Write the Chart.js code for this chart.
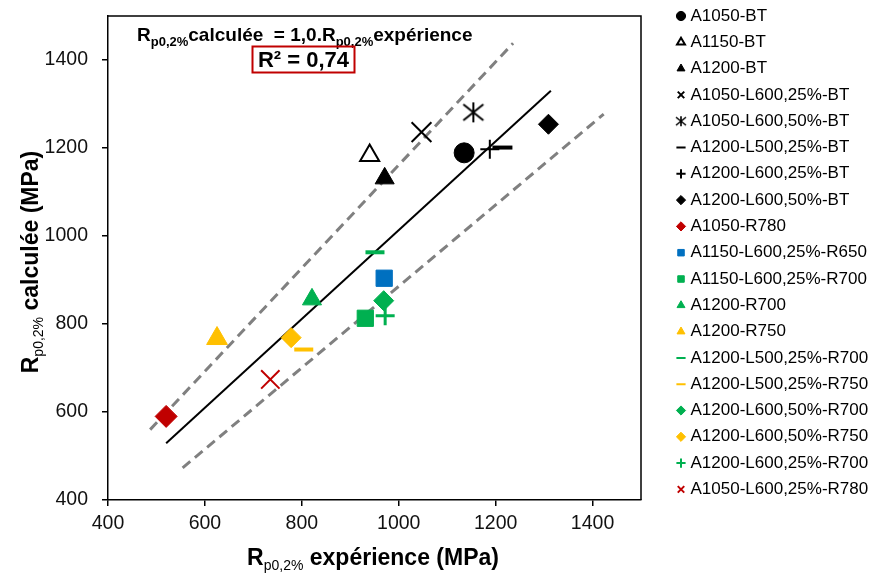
<!DOCTYPE html>
<html><head><meta charset="utf-8">
<script src="https://cdn.jsdelivr.net/npm/chart.js@4.4.1/dist/chart.umd.min.js"></script>
<style>html,body{margin:0;padding:0;background:#fff;} #wrap{width:870px;height:573px;position:relative;}</style>
</head><body><div id="wrap"><canvas id="c" width="870" height="573"></canvas></div>
<script>
// ---- data ----
const seriesNames = [
  'A1050-BT','A1150-BT','A1200-BT','A1050-L600,25%-BT','A1050-L600,50%-BT',
  'A1200-L500,25%-BT','A1200-L600,25%-BT','A1200-L600,50%-BT','A1050-R780',
  'A1150-L600,25%-R650','A1150-L600,25%-R700','A1200-R700','A1200-R750',
  'A1200-L500,25%-R700','A1200-L500,25%-R750','A1200-L600,50%-R700',
  'A1200-L600,50%-R750','A1200-L600,25%-R700','A1050-L600,25%-R780'
];
const expValues  = [1135, 940, 971, 1047, 1154, 1214, 1188, 1309, 520, 970, 931, 821, 625, 951, 804, 969, 778, 972, 735];
const calcValues = [1189, 1183, 1131, 1236, 1281, 1201, 1197, 1254, 590, 904, 813, 856, 767, 963, 742, 853, 769, 819, 674];
const fitLineX   = [520, 1314];
const fitLineY   = [529, 1330];
const upperLineX = [487, 1236];
const upperLineY = [560, 1438];
const lowerLineX = [554, 1423];
const lowerLineY = [473, 1277];
const xTicks = [400, 600, 800, 1000, 1200, 1400];
const yTicks = [400, 600, 800, 1000, 1200, 1400];

// ---- styles ----
const BLK = '#000000', RED = '#C00000', BLU = '#0070C0', GRN = '#00B050', YEL = '#FFC000';
function makeStar(half, lw) {
  const n = Math.ceil(half * 2 + lw * 2);
  const cv = document.createElement('canvas');
  cv.width = n; cv.height = n;
  const g = cv.getContext('2d');
  const c = n / 2, dx = half, dy = half * 0.8;
  g.strokeStyle = '#000'; g.lineWidth = lw; g.lineCap = 'butt';
  g.beginPath();
  g.moveTo(c - dx, c - dy); g.lineTo(c + dx, c + dy);
  g.moveTo(c + dx, c - dy); g.lineTo(c - dx, c + dy);
  g.moveTo(c, c - half); g.lineTo(c, c + half);
  g.stroke();
  return cv;
}
const starBig = makeStar(10, 2);
const starSmall = makeStar(5, 1.6);
const markers = [
  {s:'circle',   c:BLK, r:10},
  {s:'triangle', c:BLK, r:11, fill:'#ffffff', bw:2},
  {s:'triangle', c:BLK, r:11},
  {s:'crossRot', c:BLK, r:14, bw:2},
  {s:starBig,    c:BLK, r:11, bw:2, legend:starSmall},
  {s:'line',     c:BLK, r:10, bw:4},
  {s:'cross',    c:BLK, r:9.5, bw:2},
  {s:'rectRot',  c:BLK, r:10},
  {s:'rectRot',  c:RED, r:11},
  {s:'rect',     c:BLU, r:11.5},
  {s:'rect',     c:GRN, r:11.5},
  {s:'triangle', c:GRN, r:11},
  {s:'triangle', c:YEL, r:12},
  {s:'line',     c:GRN, r:9.5, bw:4},
  {s:'line',     c:YEL, r:9.5, bw:4},
  {s:'rectRot',  c:GRN, r:10},
  {s:'rectRot',  c:YEL, r:10},
  {s:'cross',    c:GRN, r:9.5, bw:3},
  {s:'crossRot', c:RED, r:13, bw:2}
];
const FONT = "'Liberation Sans', Arial, sans-serif";

const datasets = seriesNames.map((name, i) => {
  const m = markers[i];
  return {
    label: name,
    data: [{x: expValues[i], y: calcValues[i]}],
    pointStyle: m.s,
    pointRadius: m.r,
    pointHoverRadius: m.r,
    backgroundColor: m.fill || m.c,
    borderColor: m.c,
    borderWidth: m.bw || 1,
    showLine: false
  };
});
function lineDs(xs, ys, color, width, dash) {
  return {
    label: '_line',
    data: xs.map((x, k) => ({x: x, y: ys[k]})),
    showLine: true, pointRadius: 0, pointHoverRadius: 0,
    borderColor: color, borderWidth: width, borderDash: dash,
    backgroundColor: color, fill: false
  };
}
datasets.push(lineDs(fitLineX, fitLineY, '#000000', 2, []));
datasets.push(lineDs(upperLineX, upperLineY, '#808080', 3, [10, 6]));
datasets.push(lineDs(lowerLineX, lowerLineY, '#808080', 3, [10, 6]));

// ---- plugins ----
function rich(ctx, parts, x, y, align) {
  let w = 0;
  parts.forEach(p => { ctx.font = p.f; p.w = ctx.measureText(p.t).width; w += p.w; });
  let cx = align === 'center' ? x - w / 2 : x;
  parts.forEach(p => { ctx.font = p.f; ctx.fillText(p.t, cx, y + (p.dy || 0)); cx += p.w; });
}
const legendPlace = {
  id: 'legendPlace',
  beforeLayout(chart) {
    const lg = chart.legend;
    if (lg && !lg._patched) {
      lg._patched = true;
      const of = lg.fit.bind(lg);
      lg.fit = function () { of(); this.width = 229; };
    }
  },
  afterLayout(chart) {
    const lg = chart.legend;
    const h = lg.height;
    lg.left = 670.7; lg.right = lg.left + lg.width;
    lg.top = -1.8; lg.bottom = lg.top + h;
  }
};
const frame = {
  id: 'frame',
  beforeDatasetsDraw(chart) {
    const {ctx, chartArea: a} = chart;
    ctx.save();
    ctx.strokeStyle = '#000'; ctx.lineWidth = 1.5;
    ctx.beginPath();
    ctx.moveTo(a.left, a.top); ctx.lineTo(a.right, a.top); ctx.lineTo(a.right, a.bottom);
    ctx.stroke();
    ctx.restore();
  },
  afterDraw(chart) {
    const ctx = chart.ctx;
    ctx.save();
    ctx.fillStyle = '#000'; ctx.textAlign = 'left'; ctx.textBaseline = 'alphabetic';
    const B23 = 'bold 23px ' + FONT, S14 = '14px ' + FONT;
    // x title
    rich(ctx, [{t:'R', f:B23}, {t:'p0,2%', f:S14, dy:5}, {t:' expérience (MPa)', f:B23}], 373, 565, 'center');
    // y title
    ctx.save();
    ctx.translate(38, 262); ctx.rotate(-Math.PI / 2);
    rich(ctx, [{t:'R', f:B23}, {t:'p0,2%', f:S14, dy:5}, {t:' calculée (MPa)', f:B23}], 0, 0, 'center');
    ctx.restore();
    // annotation
    const B19 = 'bold 19px ' + FONT, B13 = 'bold 13px ' + FONT;
    rich(ctx, [{t:'R', f:B19}, {t:'p0,2%', f:B13, dy:5}, {t:'calculée  = 1,0.R', f:B19},
               {t:'p0,2%', f:B13, dy:5}, {t:'expérience', f:B19}], 137, 41, 'left');
    ctx.strokeStyle = '#C00000'; ctx.lineWidth = 2;
    ctx.strokeRect(252.5, 46.5, 102, 26);
    ctx.font = 'bold 22px ' + FONT; ctx.textAlign = 'center'; ctx.textBaseline = 'middle';
    ctx.fillText('R² = 0,74', 303.5, 60.5);
    ctx.restore();
  }
};

const defGen = Chart.defaults.plugins.legend.labels.generateLabels;
new Chart(document.getElementById('c'), {
  type: 'scatter',
  data: {datasets: datasets},
  options: {
    responsive: false, animation: false, devicePixelRatio: 1,
    layout: {padding: {left: 0, top: 16, right: 0, bottom: 0}},
    plugins: {
      tooltip: {enabled: false},
      legend: {
        display: true, position: 'right', align: 'start',
        labels: {
          usePointStyle: true, boxWidth: 2, boxHeight: 6.5, padding: 9.3,
          color: '#000', font: {size: 17, family: FONT},
          filter: (item) => item.text !== '_line',
          generateLabels: (chart) => defGen(chart).map(l => {
            l.lineWidth = Math.min(l.lineWidth, 2);
            const m = markers[l.datasetIndex];
            if (m && m.legend) l.pointStyle = m.legend;
            return l;
          })
        }
      }
    },
    scales: {
      x: {
        type: 'linear', min: 400, max: 1500,
        afterBuildTicks: s => { s.ticks = xTicks.map(v => ({value: v})); },
        afterFit: s => { s.height = 73; s.paddingLeft = 0; s.paddingRight = 0; },
        ticks: {font: {size: 19.5, family: FONT}, color: '#111', padding: 6, maxRotation: 0, autoSkip: false, callback: v => String(v)},
        grid: {drawOnChartArea: false, drawTicks: true, tickLength: 6, color: '#000', lineWidth: 1.5},
        border: {display: true, color: '#000', width: 1.5}
      },
      y: {
        type: 'linear', min: 400, max: 1500,
        afterBuildTicks: s => { s.ticks = yTicks.map(v => ({value: v})); },
        afterFit: s => { s.width = 108; s.paddingTop = 0; s.paddingBottom = 0; },
        ticks: {font: {size: 19.5, family: FONT}, color: '#111', padding: 14, autoSkip: false, callback: v => String(v)},
        grid: {drawOnChartArea: false, drawTicks: true, tickLength: 6, color: '#000', lineWidth: 1.5},
        border: {display: true, color: '#000', width: 1.5}
      }
    }
  },
  plugins: [legendPlace, frame]
});
</script>
</body></html>
